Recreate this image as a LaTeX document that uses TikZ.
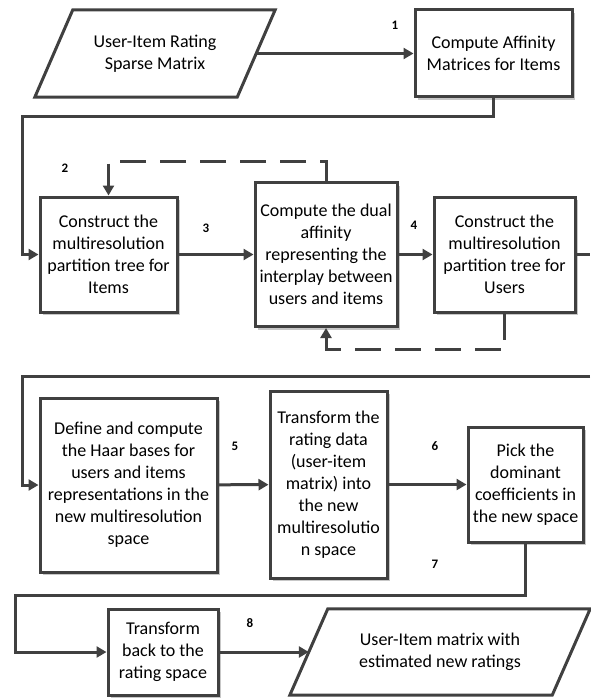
\documentclass[tikz,border=0pt]{standalone}
\usepackage{fontspec}
\setmainfont{Carlito}
\usetikzlibrary{arrows.meta,shadows}
\definecolor{linegray}{HTML}{404040}
\begin{document}
\begin{tikzpicture}[x=1pt,y=-1pt]
	\tikzstyle{box} = [rectangle, draw=linegray, line width=3pt, fill=white, align=center, inner sep=2pt, font=\fontsize{18}{22}\selectfont, drop shadow={shadow xshift=3pt, shadow yshift=-3pt, fill=black!22, opacity=1}]
	\tikzstyle{io} = [rectangle, align=center, inner sep=2pt, font=\fontsize{18}{22}\selectfont]
	\tikzstyle{num} = [inner sep=0pt, font=\fontsize{13}{15}\selectfont\bfseries]
	\tikzstyle{edge} = [line width=3pt, draw=linegray, >={Triangle[length=10pt,width=11pt]}]
	\tikzstyle{dashedge} = [edge, dash pattern=on 26pt off 14pt]
	\def\slant{19pt}
\useasboundingbox (0,0) rectangle (590,698);

%input and affinity
\node[io, minimum width=202pt, minimum height=87pt] (ratings) at (155,53.5) {User-Item Rating\\Sparse Matrix};
\node[box, minimum width=157pt, minimum height=87pt] (affinity) at (493.5,53.5) {Compute Affinity\\Matrices for Items};

%partition trees
\node[box, minimum width=137pt, minimum height=115pt] (itemtree) at (108.5,254.5) {Construct the\\multiresolution\\partition tree for\\Items};
\node[box, minimum width=142pt, minimum height=144pt] (dual) at (326,254.5) {Compute the dual\\affinity\\representing the\\interplay between\\users and items};
\node[box, minimum width=141pt, minimum height=115pt] (usertree) at (504.5,254.5) {Construct the\\multiresolution\\partition tree for\\Users};

%haar transform
\node[box, minimum width=177pt, minimum height=174pt] (haar) at (128.5,485) {Define and compute\\the Haar bases for\\users and items\\representations in the\\new multiresolution\\space};
\node[box, minimum width=117pt, minimum height=187pt] (transform) at (328.5,484.5) {Transform the\\rating data\\(user-item\\matrix) into\\the new\\multiresolutio\\n space};
\node[box, minimum width=115pt, minimum height=115pt] (pick) at (525.5,484.5) {Pick the\\dominant\\coefficients in\\the new space};

%output
\node[box, minimum width=110pt, minimum height=86pt] (back) at (163,652) {Transform\\back to the\\rating space};
\node[io, minimum width=262pt, minimum height=86pt] (result) at (440,652) {User-Item matrix with\\estimated new ratings};

%data parallelograms
\foreach \name in {ratings, result}
	\draw[edge] ([xshift=\slant]\name.north west) -- ([xshift=\slant]\name.north east) -- ([xshift=-\slant]\name.south east) -- ([xshift=-\slant]\name.south west) -- cycle;

\foreach \name/\x/\y in {1/395/25, 2/65/168, 3/206/228, 4/414/225, 5/235/446, 6/435/446, 7/435/564, 8/250/623}
	\node[num] (num\name) at (\x,\y) {\name};

\draw[edge,->] (ratings) -- (affinity);
\coordinate (turn1) at (22,117);
\draw[edge,->] (affinity.south) |- (turn1) |- (itemtree.west);

\foreach \from/\to in {itemtree/dual, dual/usertree, haar/transform, transform/pick, back/result}
	\draw[edge,->] (\from) -- (\to);

\draw[dashedge,->] (dual.north) -- ++(0,-20) -| (itemtree.north);
\draw[dashedge,->] (usertree.south) -- ++(0,36) -| (dual.south);

\coordinate (out1) at (590,254.5);
\draw[edge] (usertree.east) -- (out1);
\coordinate (in2) at (590,376);
\coordinate (turn2) at (22,376);
\draw[edge,->] (in2) -- (turn2) |- (haar.west);
\coordinate (turn3) at (15,595);
\draw[edge,->] (pick.south) |- (turn3) |- (back.west);
\end{tikzpicture}
\end{document}
